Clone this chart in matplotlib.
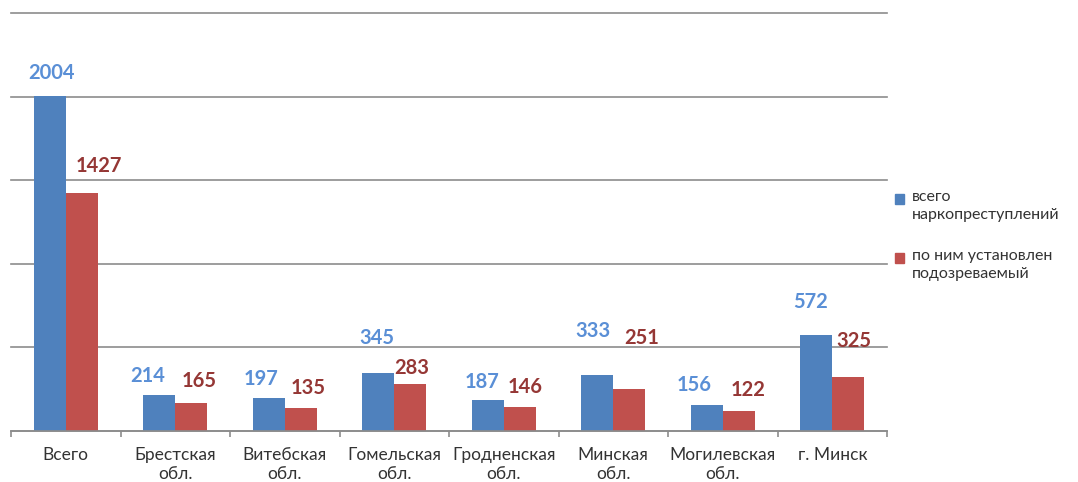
import matplotlib
matplotlib.use("Agg")
import matplotlib.pyplot as plt
from matplotlib.patches import Rectangle
import numpy as np

categories = ["Всего", "Брестская\nобл.", "Витебская\nобл.", "Гомельская\nобл.",
              "Гродненская\nобл.", "Минская\nобл.", "Могилевская\nобл.", "г. Минск"]
total_crimes = [2004, 214, 197, 345, 187, 333, 156, 572]
suspect_found = [1427, 165, 135, 283, 146, 251, 122, 325]
series_names = ["всего\nнаркопреступлений", "по ним установлен\nподозреваемый"]

# label placement offsets (pixels) relative to bar top-centre
blue_off = [(1.5, 23), (-12, 19.5), (-8, 19), (-2, 35), (-6, 17.7), (-4, 44.6), (-13, 20.4), (-6, 33.4)]
red_off = [(17, 26.7), (8, 22.7), (7.5, 20.4), (2, 16), (6, 19.6), (13, 50.7), (9, 20.6), (6, 36)]

BLUE = "#4F81BD"
RED = "#C0504D"
BLUE_TXT = "#5A8FD6"
RED_TXT = "#953735"
GRID = "#8C8C8C"

plt.rcParams['font.family'] = ['Lato', 'DejaVu Sans']

W, H = 1078, 482
fig = plt.figure(figsize=(W / 100, H / 100), dpi=100)
left, right, top, bottom = 11, 887, 13.3, 431
ax = fig.add_axes([left / W, 1 - bottom / H, (right - left) / W, (bottom - top) / H])

x = np.arange(len(categories))
bw = 0.29
b1 = ax.bar(x - bw / 2, total_crimes, bw, color=BLUE, zorder=3)
b2 = ax.bar(x + bw / 2, suspect_found, bw, color=RED, zorder=3)

ax.set_xlim(-0.5, len(categories) - 0.5)
ax.set_ylim(0, 2500)
ax.set_yticks(np.arange(0, 2501, 500))
ax.yaxis.grid(True, color=GRID, linewidth=1.2, zorder=0)
for gl in ax.get_ygridlines():
    gl.set_clip_on(False)
ax.tick_params(axis='y', length=0, labelleft=False)
for s in ['left', 'right', 'top']:
    ax.spines[s].set_visible(False)
ax.spines['bottom'].set_color(GRID)
ax.spines['bottom'].set_linewidth(1.2)
ax.spines['bottom'].set_zorder(4)

ax.set_xticks(x)
ax.set_xticklabels(categories, fontsize=12.5, color="#333333", linespacing=1.27)
ax.tick_params(axis='x', length=0, pad=11.5)
ax.set_xticks(np.arange(-0.5, len(categories)), minor=True)
ax.tick_params(axis='x', which='minor', length=4.5, color=GRID, width=1.2)

for rect, v, (dx, dy) in zip(b1, total_crimes, blue_off):
    ax.annotate(str(v), (rect.get_x() + rect.get_width() / 2, v), xytext=(dx, dy),
                textcoords='offset pixels', ha='center', va='center',
                fontsize=14.5, fontweight='bold', color=BLUE_TXT)
for rect, v, (dx, dy) in zip(b2, suspect_found, red_off):
    ax.annotate(str(v), (rect.get_x() + rect.get_width() / 2, v), xytext=(dx, dy),
                textcoords='offset pixels', ha='center', va='center',
                fontsize=14.5, fontweight='bold', color=RED_TXT)

# legend
for name, col, ytop in zip(series_names, [BLUE, RED], [199, 258]):
    fig.add_artist(Rectangle((895 / W, 1 - (ytop + 5) / H), 9 / W, 10 / H,
                             transform=fig.transFigure, color=col))
    fig.text(912 / W, 1 - (ytop - 9) / H, name, fontsize=11.5, color="#333333",
             ha='left', va='top', linespacing=1.35)

fig.savefig("out.png", dpi=100)
